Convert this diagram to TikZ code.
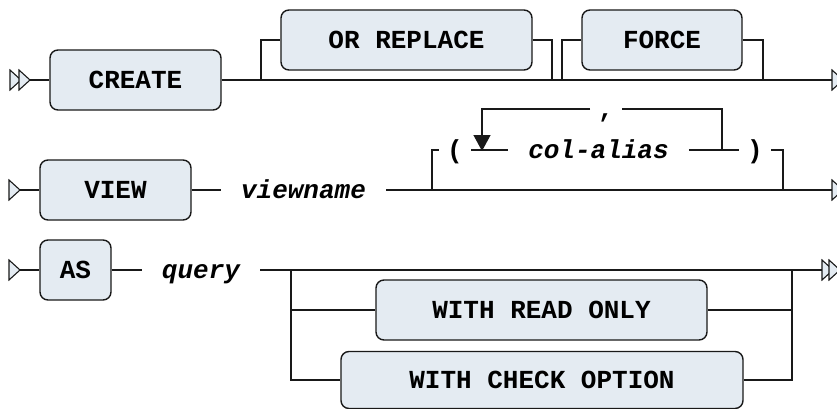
\documentclass[tikz,border=0pt]{standalone}
\usepackage{fontspec}
\setmonofont{Liberation Mono}
\usepackage{tikz}
\usepackage{xcolor}
\usetikzlibrary{arrows.meta}
\definecolor{boxblue}{RGB}{228,235,242}
\definecolor{railgray}{RGB}{25,25,25}
\newcommand{\railfont}{\fontsize{26}{30}\selectfont\ttfamily\bfseries}
% open end mark, base at the given point
\newcommand{\railtip}[1]{\draw[endtip] (#1) +(0,-10) -- +(11,0) -- +(0,10) -- cycle;}
\tikzset{
    keyword/.style={draw=railgray, line width=1.4pt, fill=boxblue, rounded corners=8pt,
        minimum height=60pt, inner sep=0pt, text height=17pt, text depth=0pt, font=\railfont},
    ident/.style={inner xsep=20pt, inner ysep=0pt, text height=17pt, text depth=0pt, font=\railfont\itshape},
    sym/.style={inner xsep=8pt, inner ysep=0pt, text height=17pt, text depth=0pt, font=\railfont},
    rail/.style={draw=railgray, line width=1.3pt},
    endtip/.style={draw=railgray, line width=1.1pt, fill=boxblue, line join=miter}
}

\begin{document}
\begin{tikzpicture}[x=1pt,y=-1pt]
    \useasboundingbox (0,0) rectangle (837,409);
    % CREATE [OR REPLACE] [FORCE]
    \coordinate (start1) at (30,80);
    \coordinate (end1) at (832,80);
    \node[keyword, minimum width=171pt] (create) at (135.5,80) {CREATE};
    \node[keyword, minimum width=251pt] (orreplace) at (406.5,40) {OR REPLACE};
    \node[keyword, minimum width=160pt] (force) at (662,40) {FORCE};
    \coordinate (split1) at (261,80);
    \coordinate (join1) at (552,80);
    \coordinate (split2) at (562,80);
    \coordinate (join2) at (763,80);
    \draw[rail] (start1) -- (create.west);
    \draw[rail] (create.east) -- (end1);
    \draw[rail] (split1) |- (orreplace.west);
    \draw[rail] (orreplace.east) -| (join1);
    \draw[rail] (split2) |- (force.west);
    \draw[rail] (force.east) -| (join2);
    \railtip{10,80}
    \railtip{19,80}
    \railtip{832,80}

    % VIEW viewname [( col-alias, ... )]
    \coordinate (start2) at (20,190);
    \coordinate (end2) at (832,190);
    \node[keyword, minimum width=151pt] (view) at (115.5,190) {VIEW};
    \node[ident] (viewname) at (303.5,190) {viewname};
    \node[sym] (lpar) at (455,150) {(};
    \node[ident] (colalias) at (598.5,150) {col-alias};
    \node[sym] (rpar) at (755,150) {)};
    \node[sym] (comma) at (606,109) {,};
    \coordinate (split3) at (432,190);
    \coordinate (join3) at (783,190);
    \coordinate (loopout) at (722,150);
    \coordinate (loopin) at (482,151);
    \draw[rail] (start2) -- (view.west);
    \draw[rail] (view.east) -- (viewname.west);
    \draw[rail] (viewname.east) -- (end2);
    \draw[rail] (split3) |- (lpar.west);
    \draw[rail] (lpar.east) -- (colalias.west);
    \draw[rail] (colalias.east) -- (rpar.west);
    \draw[rail] (rpar.east) -| (join3);
    \draw[rail] (loopout) |- (comma.east);
    \draw[rail, -{Triangle[length=16pt, width=17pt]}] (comma.west) -| (loopin);
    \railtip{9,190}
    \railtip{832,190}

    % AS query [WITH READ ONLY | WITH CHECK OPTION]
    \coordinate (start3) at (20,270);
    \coordinate (end3) at (822,270);
    \node[keyword, minimum width=71pt] (as) at (75.5,270) {AS};
    \node[ident] (query) at (201,270) {query};
    \node[keyword, minimum width=331pt] (readonly) at (541.5,310) {WITH READ ONLY};
    \node[keyword, minimum width=402pt, minimum height=57pt] (checkopt) at (542,380) {WITH CHECK OPTION};
    \coordinate (split4) at (291,270);
    \coordinate (join4) at (792,270);
    \draw[rail] (start3) -- (as.west);
    \draw[rail] (as.east) -- (query.west);
    \draw[rail] (query.east) -- (end3);
    \draw[rail] (split4) |- (readonly.west);
    \draw[rail] (split4) |- (checkopt.west);
    \draw[rail] (readonly.east) -| (join4);
    \draw[rail] (checkopt.east) -| (join4);
    \railtip{9,270}
    \railtip{822,270}
    \railtip{829,270}
\end{tikzpicture}
\end{document}
